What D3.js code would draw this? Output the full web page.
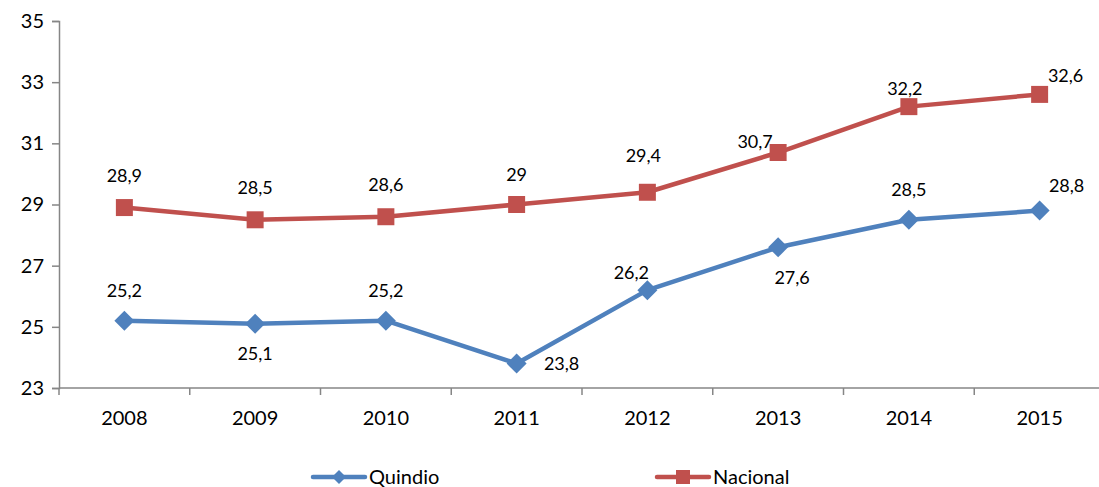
<!DOCTYPE html>
<html>
<head>
<meta charset="utf-8">
<script src="https://d3js.org/d3.v7.min.js"></script>
<style>
    body { margin: 0; background: #fff; font-family: Lato, 'Open Sans', sans-serif; }
    svg text { fill: #000; }
</style>
</head>
<body>
<svg id="svg" width="1099" height="487"></svg>
<script>
    // data
    var years = ["2008", "2009", "2010", "2011", "2012", "2013", "2014", "2015"];
    var quindio = [25.2, 25.1, 25.2, 23.8, 26.2, 27.6, 28.5, 28.8];
    var nacional = [28.9, 28.5, 28.6, 29.0, 29.4, 30.7, 32.2, 32.6];
    var yTicks = [23, 25, 27, 29, 31, 33, 35];

    // where each data label sits relative to its point
    var quindioLabelPos = [[0,-30],[0,30],[0,-30],[45,0],[-16,-17],[14,30],[0,-30],[27,-25]];
    var nacionalLabelPos = [[0,-32],[0,-32],[0,-32],[0,-30],[-4,-37],[-23,-11],[-4,-18],[26,-19]];

    var svg = d3.select("svg");
    var plotLeft = 59, plotRight = 1105, plotTop = 21, plotBottom = 388;
    var blue = "#4F81BD", red = "#C0504D", axisColor = "#868686";

    var x = d3.scaleBand().domain(years).range([plotLeft, plotRight]);
    var y = d3.scaleLinear().domain([23, 35]).range([plotBottom, plotTop]);
    var fmt = function(v){ return String(v).replace(".", ","); };

    // y axis
    var yAxis = svg.append("g").attr("transform", "translate(" + plotLeft + ",0)")
        .call(d3.axisLeft(y).tickValues(yTicks).tickSize(7).tickPadding(8).tickFormat(d3.format("d")));
    yAxis.select(".domain").attr("stroke", axisColor).attr("stroke-width", 1.5);
    yAxis.selectAll(".tick line").attr("stroke", axisColor).attr("stroke-width", 1.5);
    yAxis.selectAll("text").attr("font-size", 20).attr("font-family", "Lato, sans-serif").attr("fill", "#000");

    // x axis with ticks between categories
    var xAxis = svg.append("g").attr("transform", "translate(0," + plotBottom + ")");
    xAxis.append("line").attr("x1", plotLeft).attr("x2", 1099).attr("stroke", axisColor).attr("stroke-width", 1.5);
    xAxis.selectAll("line.tk").data(years).enter().append("line")
        .attr("x1", function(d){ return x(d); }).attr("x2", function(d){ return x(d); })
        .attr("y1", 0).attr("y2", 7).attr("stroke", axisColor).attr("stroke-width", 1.5);
    xAxis.selectAll("text").data(years).enter().append("text")
        .attr("x", function(d){ return x(d) + x.bandwidth() / 2; })
        .attr("y", 37).attr("text-anchor", "middle").attr("font-size", 20).text(function(d){ return d; });

    var cx = function(d, i){ return x(years[i]) + x.bandwidth() / 2; };
    var line = d3.line().x(cx).y(function(d){ return y(d); });

    function drawSeries(values, color, shape, labelPos){
        svg.append("path").datum(values).attr("d", line)
            .attr("fill", "none").attr("stroke", color).attr("stroke-width", 4.5).attr("stroke-linejoin", "round");
        svg.selectAll(null).data(values).enter().append("path")
            .attr("d", shape)
            .attr("transform", function(d, i){ return "translate(" + cx(d, i) + "," + y(d) + ")"; })
            .attr("fill", color);
        svg.selectAll(null).data(values).enter().append("text")
            .attr("x", function(d, i){ return cx(d, i) + labelPos[i][0]; })
            .attr("y", function(d, i){ return y(d) + labelPos[i][1]; })
            .attr("dy", "0.35em").attr("text-anchor", "middle").attr("font-size", 18)
            .text(fmt);
    }

    var diamond = "M0,-10L10,0L0,10L-10,0Z";
    var square = "M-8.5,-8.5H8.5V8.5H-8.5Z";
    drawSeries(quindio, blue, diamond, quindioLabelPos);
    drawSeries(nacional, red, square, nacionalLabelPos);

    // legend
    var legend = [
        { name: "Quindio", color: blue, shape: "M0,-7L7,0L0,7L-7,0Z", x: 313 },
        { name: "Nacional", color: red, shape: "M-7,-7H7V7H-7Z", x: 657 }
    ];
    var lg = svg.selectAll("g.lg").data(legend).enter().append("g")
        .attr("transform", function(d){ return "translate(" + d.x + ",477)"; });
    lg.append("line").attr("x1", 0).attr("x2", 52).attr("stroke", function(d){ return d.color; })
        .attr("stroke-width", 4.5).attr("stroke-linecap", "round");
    lg.append("path").attr("d", function(d){ return d.shape; }).attr("transform", "translate(26,0)")
        .attr("fill", function(d){ return d.color; });
    lg.append("text").attr("x", 56).attr("dy", "0.35em").attr("font-size", 20).text(function(d){ return d.name; });
</script>
</body>
</html>
